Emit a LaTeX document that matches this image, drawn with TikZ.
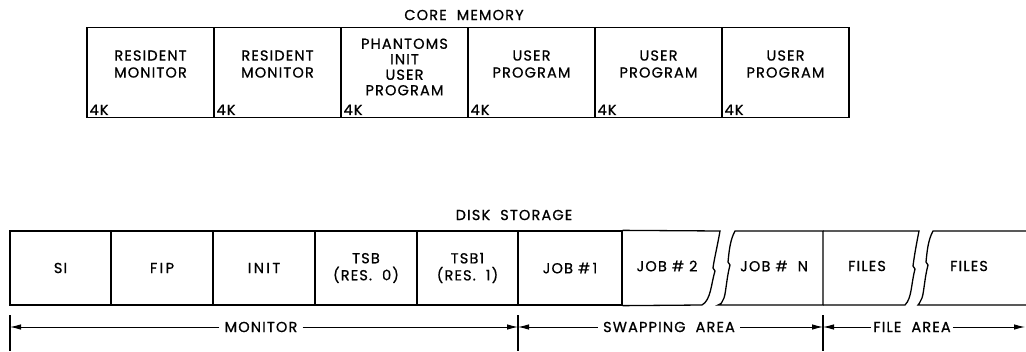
\documentclass[tikz,border=0pt]{standalone}
\usepackage{fontspec}
\setmainfont{Poppins}[FakeBold=0.8, LetterSpace=8]
\usetikzlibrary{positioning, arrows.meta}

\tikzset{
  membox/.style={draw, line width=1.3pt, minimum width=127pt, minimum height=90pt, inner sep=0pt},
  diskbox/.style={draw, line width=1.3pt, minimum height=74pt, inner sep=0pt, align=center},
  edge/.style={line width=1.3pt},
  txt/.style={align=center, inner sep=1pt, font=\fontsize{14.5}{17}\selectfont},
  dim/.style={line width=0.9pt, -{Latex[length=11pt, width=5.5pt]}},
  tick/.style={line width=1.2pt}
}

\begin{document}
\begin{tikzpicture}[x=1pt, y=-1pt]
        \useasboundingbox (0,0) rectangle (1026,351);

        % core memory
        \node[txt] (core) at (464,15) {CORE\ \ MEMORY};
        \foreach \i in {0,...,5}
            \node[membox] (c\i) at ({150.5+127*\i},72.5) {};
        \foreach \i in {0,...,5}
            \node[txt, anchor=south west, inner sep=3pt] (k\i) at (c\i.south west) {4K};
        \node[txt] (t0) at (150.5,64) {RESIDENT\\MONITOR};
        \node[txt] (t1) at (277.5,64) {RESIDENT\\MONITOR};
        \node[txt, font=\fontsize{14.5}{15.5}\selectfont] (t2) at (404.5,67) {PHANTOMS\\INIT\\USER\\PROGRAM};
        \node[txt] (t3) at (531.5,64) {USER\\PROGRAM};
        \node[txt] (t4) at (658.5,64) {USER\\PROGRAM};
        \node[txt] (t5) at (785.5,64) {USER\\PROGRAM};

        % disk storage
        \node[txt] (disk) at (514,215) {DISK\ \ STORAGE};
        \foreach \l/\r/\t [count=\i] in {10/111/SI, 111/213/F\,I\,P, 213/315/I\,N\,I\,T,
            315/417/{TSB\\(RES.\ \ 0)}, 417/518/{TSB1\\(RES.\ \ 1)}, 518/622/{JOB\ \#\,1}}
            \node[diskbox, txt, line width=1.3pt, inner sep=0pt, minimum width={\r-\l}] (d\i) at ({(\l+\r)/2},268) {\t};

        % broken-off sections
        \draw[edge] (d6.north east) -- (720,231) .. controls (717,248) and (714,260) .. (713,268)
            -- (715,271) .. controls (711,284) and (711,300) .. (702,305) -- (d6.south east);
        \node[txt] (j2) at (667,266) {JOB\ \#\ 2};

        \coordinate (fa) at (823,231);
        \coordinate (fb) at (823,305);
        \draw[edge] (fa) -- (735,231) .. controls (730,240) and (729,252) .. (728,262)
            -- (730,265) .. controls (726,280) and (726,296) .. (723,300) .. controls (721,304) .. (718,305) -- (fb) -- cycle;
        \node[txt] (jn) at (774,266) {JOB\ \#\ \ N};

        \draw[edge] (fa) -- (919,231) .. controls (916,246) and (914,258) .. (913,266)
            -- (915,269) .. controls (911,284) and (912,298) .. (905,305) -- (fb);
        \node[txt] (f1) at (867,266) {FILES};

        \draw[edge] (1026,231) -- (933,231) .. controls (928,240) and (927,252) .. (926,262)
            -- (928,265) .. controls (924,280) and (924,296) .. (921,300) .. controls (919,304) .. (918,305) -- (1026,305);
        \node[txt] (f2) at (969,266) {FILES};

        % extents
        \foreach \x [count=\i] in {10,518,823}
            \draw[tick] (\x,315) -- (\x,351);
        \coordinate (a0) at (10,327);
        \coordinate (a1) at (518,327);
        \coordinate (a2) at (823,327);
        \coordinate (a3) at (1025,327);

        \node[txt, inner sep=5pt] (mon) at (261,327) {MONITOR};
        \node[txt, inner sep=5pt] (swap) at (669,327) {SWAPPING\ \ AREA};
        \node[txt, inner sep=2pt] (farea) at (912,327) {FILE\ \ AREA};

        \draw[dim] (mon) -- (a0);
        \draw[dim] (mon) -- (a1);
        \draw[dim] (swap) -- (a1);
        \draw[dim] (swap) -- (a2);
        \draw[dim] (farea) -- (a2);
        \draw[dim] (farea) -- (a3);

    \end{tikzpicture}
\end{document}
